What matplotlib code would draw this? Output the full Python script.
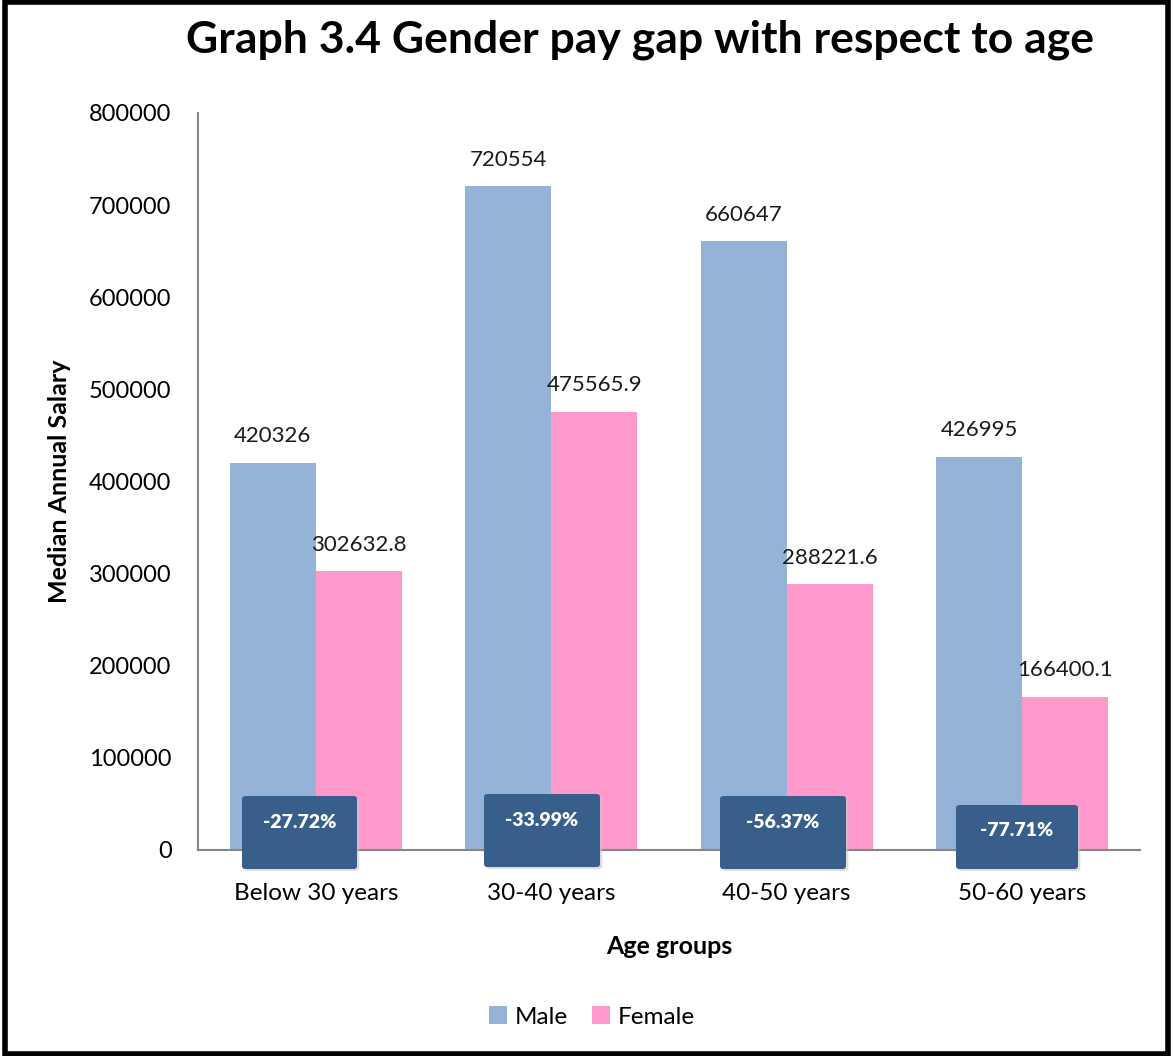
import matplotlib
matplotlib.use("Agg")
import matplotlib.pyplot as plt
from matplotlib.patches import FancyBboxPatch, Rectangle
import numpy as np

plt.rcParams['font.family'] = ['Lato', 'DejaVu Sans']

categories = ["Below 30 years", "30-40 years", "40-50 years", "50-60 years"]
male = [420326, 720554, 660647, 426995]
female = [302632.8, 475565.9, 288221.6, 166400.1]
male_labels = ["420326", "720554", "660647", "426995"]
female_labels = ["302632.8", "475565.9", "288221.6", "166400.1"]
gaps = ["-27.72%", "-33.99%", "-56.37%", "-77.71%"]
yticks = [0, 100000, 200000, 300000, 400000, 500000, 600000, 700000, 800000]

male_color = "#95B3D7"
female_color = "#FF99CC"
box_color = "#385E8C"

fig = plt.figure(figsize=(11.73, 10.56), dpi=100)
ax = fig.add_axes([198/1173, 1-850/1056, (1140-198)/1173, (850-113)/1056])

x = np.arange(len(categories))
w = 0.365
ax.bar(x - w/2, male, w, color=male_color, label="Male", zorder=2)
ax.bar(x + w/2, female, w, color=female_color, label="Female", zorder=2)

for i in range(len(categories)):
    ax.annotate(male_labels[i], (x[i] - w/2, male[i]), xytext=(0, 12), textcoords="offset points",
                ha="center", va="bottom", fontsize=16, color="#1a1a1a")
    ax.annotate(female_labels[i], (x[i] + w/2, female[i]), xytext=(0, 12), textcoords="offset points",
                ha="center", va="bottom", fontsize=16, color="#1a1a1a")

ax.set_xlim(-0.5, 3.5)
ax.set_ylim(0, 800000)
ax.set_yticks(yticks)
ax.set_yticklabels([str(v) for v in yticks], fontsize=17)
ax.set_xticks(x)
ax.set_xticklabels(categories, fontsize=17.5)
ax.tick_params(axis="y", length=0, pad=19)
ax.tick_params(axis="x", length=0, pad=24)
for s in ["top", "right"]:
    ax.spines[s].set_visible(False)
for s in ["left", "bottom"]:
    ax.spines[s].set_color("#868686")
    ax.spines[s].set_linewidth(1.5)

ax.set_ylabel("Median Annual Salary", fontsize=18, fontweight="bold", labelpad=13)
ax.set_xlabel("Age groups", fontsize=18, fontweight="bold", labelpad=22)

# gap boxes (pixel layout)
box_px = [(242, 796, 357, 869), (484, 794, 600, 867), (720, 796, 846, 869), (956, 805, 1078, 869)]
H = 1056
for (x0, y0, x1, y1), g in zip(box_px, gaps):
    shadow = FancyBboxPatch((x0/1173 + 0.002, 1 - (y1+2)/H), (x1-x0)/1173, (y1-y0)/H,
                            boxstyle="round,pad=0,rounding_size=0.003", transform=fig.transFigure,
                            facecolor="#c8c8c8", edgecolor="none", zorder=3, alpha=0.6)
    fig.patches.append(shadow)
    p = FancyBboxPatch((x0/1173, 1 - y1/H), (x1-x0)/1173, (y1-y0)/H,
                       boxstyle="round,pad=0,rounding_size=0.003", transform=fig.transFigure,
                       facecolor=box_color, edgecolor="none", zorder=4)
    fig.patches.append(p)
    fig.text((x0+x1)/2/1173, 1 - (y0+26)/H, g, ha="center", va="center",
             color="white", fontsize=14, fontweight="heavy", zorder=5)

fig.text(640/1173, 1-40/H, "Graph 3.4 Gender pay gap with respect to age", ha="center", va="center",
         fontsize=32, fontweight="bold")

leg = fig.legend(loc="center", bbox_to_anchor=(592/1173, 1-1017/H), ncol=2, frameon=False,
                 fontsize=17.5, handlelength=0.75, handleheight=0.75, handletextpad=0.3, columnspacing=1.0)

# outer border
fig.patches.append(Rectangle((0.004, 0.002), 0.992, 0.996, transform=fig.transFigure,
                             fill=False, edgecolor="black", linewidth=4, zorder=10))

fig.savefig("out.png", dpi=100)
